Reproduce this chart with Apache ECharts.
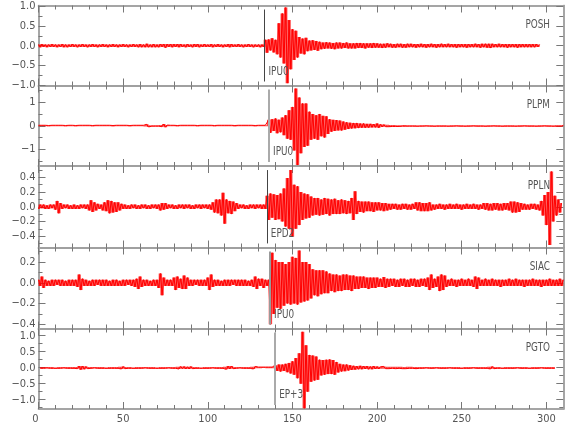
<!DOCTYPE html>
<html><head><meta charset="utf-8">
<script src="https://cdn.jsdelivr.net/npm/echarts@6/dist/echarts.min.js"></script>
<style>html,body{margin:0;padding:0;background:#fff}#c{width:580px;height:440px}</style>
</head><body><div id="c"></div>
<script>
// ---- data ----
const stations = ['POSH','PLPM','PPLN','SIAC','PGTO'];
const pickNames = ['IPU0','IPU0','EPD2','IPU0','EP+3'];
const pickTimes = [133.5,136.2,134.9,136.8,139.8];
const startTimes = [0,0,0,0,1];
const sampleInterval = 1;
const xTickMajor = [0,50,100,150,200,250,300];
const xTickMinor = [10,20,30,40,60,70,80,90,110,120,130,140,160,170,180,190,210,220,230,240,260,270,280,290];
const yMin = [-1.01,-1.71,-0.555,-0.44,-1.29];
const yMax = [1.02,1.71,0.555,0.34,1.225];
const yMajor = [[-1,-0.5,0,0.5,1],[-1,0,1],[-0.4,-0.2,0,0.2,0.4],[-0.4,-0.2,0,0.2],[-1,-0.5,0,0.5,1]];
const yMinor = [[-0.75,-0.25,0.25,0.75],[-1.5,-0.5,0.5,1.5],[-0.5,-0.3,-0.1,0.1,0.3,0.5],[-0.3,-0.1,0.1,0.3],[-1.25,-0.75,-0.25,0.25,0.75]];
const yDecimals = [1,0,1,1,1];

const posh = [
.03,-.04,.04,-.03,.03,-.04,.03,-.03,.04,-.03,.03,-.04,.03,-.03,.04,-.04,.03,-.04,.03,-.03,
.04,-.03,.03,-.04,.03,-.03,.04,-.03,.03,-.04,.03,-.03,.04,-.03,.03,-.04,.03,-.03,.04,-.03,
.03,-.04,.03,-.03,.04,-.03,.03,-.04,.03,-.03,.04,-.03,.03,-.04,.03,-.03,.04,-.03,.03,-.04,
.04,-.04,.03,-.04,.05,-.04,.03,-.04,.04,-.04,.03,-.04,.04,-.03,.04,-.05,.04,-.03,.04,-.04,
.04,-.03,.04,-.04,.04,-.03,.03,-.04,.04,-.03,.03,-.04,.04,-.03,.04,-.04,.03,-.03,.04,-.03,
.03,-.03,.04,-.04,.03,-.03,.04,-.03,.03,-.04,.03,-.03,.04,-.04,.04,-.03,.03,-.03,.04,-.03,
.03,-.04,.03,-.03,.04,-.03,.03,-.04,.03,-.03,.03,-.04,.03,-.03,.15,-.18,.16,-.12,.19,-.17,
.15,-.22,.57,-.3,.82,-.45,.97,-.95,.65,-.6,.42,-.36,.38,-.3,.22,-.2,.18,-.22,.2,-.14,
.13,-.12,.14,-.11,.12,-.13,.1,-.09,.08,-.08,.09,-.07,.08,-.08,.07,-.09,.08,-.07,.08,-.07,
.07,-.06,.08,-.07,.06,-.07,.06,-.07,.07,-.06,.07,-.06,.06,-.07,.06,-.05,.06,-.06,.07,-.05,
.06,-.05,.05,-.06,.05,-.05,.06,-.04,.05,-.05,.04,-.05,.05,-.04,.05,-.05,.04,-.05,.05,-.04,
.05,-.04,.04,-.05,.04,-.04,.05,-.04,.04,-.05,.04,-.04,.05,-.04,.04,-.05,.04,-.04,.05,-.04,
.04,-.04,.05,-.04,.04,-.04,.04,-.05,.04,-.04,.04,-.04,.04,-.05,.04,-.04,.04,-.04,.05,-.04,
.04,-.05,.05,-.04,.05,-.05,.05,-.06,.05,-.04,.04,-.04,.05,-.04,.04,-.04,.04,-.05,.04,-.04,
.04,-.04,.04,-.05,.04,-.04,.04,-.04,.04,-.04,.04,-.04,.04,-.04,.04,-.03,.03];

const plpm = [
.02,-.02,.02,-.01,.02,-.02,.01,-.02,.02,-.02,.02,-.01,.02,-.02,.02,-.02,.01,-.02,.02,-.02,
.02,-.02,.01,-.02,.02,-.02,.02,-.01,.02,-.02,.02,-.02,.01,-.02,.02,-.02,.02,-.01,.02,-.02,
.02,-.02,.02,-.02,.01,-.02,.02,-.02,.02,-.01,.02,-.02,.02,-.02,.01,-.02,.02,-.02,.02,-.02,
.02,-.02,.02,-.03,.06,-.05,.02,-.02,.02,-.02,.02,-.02,.03,-.04,.07,-.06,.03,-.02,.02,-.02,
.02,-.02,.01,-.02,.02,-.02,.02,-.01,.02,-.02,.02,-.02,.02,-.02,.01,-.02,.02,-.02,.02,-.01,
.02,-.02,.02,-.02,.01,-.02,.02,-.02,.02,-.02,.02,-.01,.02,-.02,.02,-.02,.01,-.02,.02,-.02,
.02,-.02,.02,-.01,.02,-.02,.02,-.02,.01,-.02,.02,-.02,.02,-.02,.02,-.02,.25,-.3,.28,-.22,
.31,-.32,.26,-.28,.35,-.4,.45,-.55,.66,-.6,.8,-1.05,1.58,-1.67,1.2,-1.17,.95,-.9,.95,-.85,
.6,-.6,.5,-.55,.45,-.6,.5,-.45,.42,-.5,.4,-.35,.28,-.25,.25,-.22,.24,-.2,.22,-.2,
.18,-.17,.15,-.14,.13,-.12,.12,-.11,.12,-.1,.1,-.09,.1,-.09,.08,-.08,.08,-.07,.07,-.07,
.1,-.09,.06,-.05,.05,-.04,.04,-.04,.03,-.03,.03,-.03,.02,-.03,.02,-.02,.03,-.02,.02,-.02,
.02,-.02,.02,-.02,.01,-.02,.02,-.02,.02,-.01,.02,-.02,.02,-.02,.01,-.02,.02,-.02,.02,-.02,
.02,-.02,.01,-.02,.02,-.02,.02,-.01,.02,-.02,.02,-.02,.01,-.02,.02,-.02,.02,-.01,.02,-.02,
.02,-.02,.02,-.02,.01,-.02,.02,-.02,.02,-.01,.02,-.02,.02,-.02,.01,-.02,.02,-.02,.02,-.02,
.02,-.02,.01,-.02,.02,-.02,.02,-.01,.02,-.02,.02,-.02,.02,-.02,.01,-.02,.02,-.02,.02,-.01,
.02,-.02,.02,-.02,.01,-.02,.02,-.02,.02,-.02,.02];

const ppln = [
-.03,.03,-.02,.03,-.03,.02,-.03,.03,-.02,.03,-.04,.08,-.09,.05,-.03,.03,-.02,.03,-.03,.02,
-.03,.03,-.03,.02,-.03,.03,-.02,.03,-.03,.03,-.05,.09,-.07,.06,-.05,.04,-.03,.03,-.05,.06,
-.06,.09,-.09,.08,-.08,.06,-.07,.06,-.05,.04,-.03,.03,-.03,.02,-.03,.03,-.02,.03,-.03,.02,
-.03,.03,-.02,.03,-.03,.02,-.03,.03,-.02,.03,-.03,.03,-.05,.05,-.04,.05,-.03,.03,-.02,.03,
-.03,.02,-.03,.03,-.02,.03,-.03,.03,-.02,.03,-.03,.02,-.03,.03,-.02,.03,-.03,.03,-.02,.03,
-.03,.03,-.04,.06,-.08,.1,-.09,.1,-.12,.19,-.23,.1,-.09,.08,-.1,.07,-.06,.05,-.03,.03,
-.02,.03,-.03,.02,-.03,.03,-.02,.03,-.03,.03,-.02,.03,-.03,.03,-.03,.15,-.18,.18,-.15,.17,
-.18,.16,-.17,.18,-.2,.25,-.27,.39,-.3,.5,-.41,.3,-.3,.28,-.25,.2,-.18,.18,-.16,.17,
-.15,.14,-.12,.12,-.11,.12,-.12,.1,-.11,.12,-.1,.11,-.12,.1,-.1,.11,-.1,.09,-.1,.1,
-.09,.09,-.1,.08,-.09,.12,-.18,.21,-.1,.08,-.07,.07,-.08,.07,-.06,.07,-.06,.06,-.07,.06,
-.05,.06,-.05,.05,-.06,.05,-.05,.04,-.04,.04,-.03,.04,-.04,.03,-.04,.04,-.03,.04,-.04,.03,
-.04,.04,-.03,.06,-.05,.06,-.06,.05,-.06,.05,-.06,.06,-.05,.03,-.04,.03,-.03,.04,-.03,.03,
-.04,.03,-.03,.04,-.03,.03,-.03,.04,-.03,.03,-.04,.03,-.03,.04,-.03,.03,-.03,.04,-.03,.03,
-.04,.03,-.03,.05,-.04,.05,-.05,.04,-.05,.05,-.04,.05,-.05,.04,-.05,.05,-.04,.05,-.05,.07,
-.08,.07,-.08,.06,-.07,.05,-.04,.04,-.04,.03,-.04,.04,-.03,.04,-.04,.03,-.05,.08,-.12,.16,
-.25,.2,-.52,.48,-.2,.15,-.12,.1,-.08,.05];

const siac = [
.03,-.03,.06,-.05,.03,-.03,.02,-.03,.03,-.03,.03,-.02,.03,-.03,.03,-.03,.02,-.03,.03,-.03,
.03,-.03,.03,-.04,.08,-.07,.04,-.03,.03,-.03,.02,-.03,.03,-.03,.03,-.02,.03,-.03,.03,-.03,
.03,-.03,.02,-.03,.03,-.03,.03,-.03,.02,-.03,.03,-.03,.03,-.02,.03,-.03,.03,-.04,.04,-.06,
.06,-.04,.03,-.03,.03,-.03,.02,-.03,.03,-.03,.03,-.05,.09,-.12,.05,-.03,.03,-.03,.03,-.03,
.05,-.07,.06,-.05,.04,-.06,.07,-.06,.05,-.03,.03,-.03,.03,-.02,.03,-.03,.03,-.03,.03,-.03,
.05,-.07,.08,-.04,.03,-.03,.03,-.03,.02,-.03,.03,-.03,.03,-.03,.03,-.02,.03,-.03,.03,-.03,
.03,-.03,.03,-.03,.02,-.03,.03,-.04,.06,-.06,.04,-.03,.04,-.05,.03,-.03,.03,-.4,.29,-.3,
.22,-.24,.2,-.25,.2,-.22,.18,-.2,.2,-.21,.25,-.2,.24,-.21,.31,-.19,.2,-.18,.2,-.17,
.18,-.15,.13,-.12,.12,-.13,.12,-.11,.12,-.1,.11,-.1,.09,-.08,.08,-.09,.08,-.08,.07,-.08,
.08,-.07,.08,-.07,.07,-.08,.07,-.06,.06,-.06,.06,-.05,.06,-.05,.05,-.06,.05,-.05,.05,-.05,
.05,-.04,.04,-.04,.055,-.05,.04,-.04,.04,-.03,.04,-.04,.03,-.04,.04,-.03,.04,-.04,.03,-.04,
.04,-.03,.04,-.04,.03,-.04,.04,-.03,.04,-.04,.05,-.07,.08,-.05,.04,-.04,.06,-.08,.08,-.07,
.07,-.04,.03,-.03,.04,-.03,.03,-.04,.03,-.03,.04,-.03,.03,-.03,.04,-.03,.03,-.04,.06,-.06,
.05,-.03,.03,-.03,.04,-.03,.03,-.03,.04,-.03,.03,-.03,.03,-.04,.03,-.03,.03,-.03,.04,-.03,
.03,-.03,.04,-.03,.03,-.03,.03,-.04,.03,-.03,.03,-.03,.04,-.03,.03,-.03,.03,-.04,.03,-.03,
.03,-.03,.04,-.03,.03,-.03,.03,-.03,.04,-.03,.03];

const pgto = [
-.02,.02,-.02,.02,-.01,.02,-.02,.02,-.02,.01,-.02,.02,-.02,.02,-.01,.02,-.02,.02,-.02,.02,
-.02,.02,-.03,.05,-.06,.05,-.05,.04,-.03,.02,-.02,.02,-.01,.02,-.02,.02,-.02,.02,-.02,.01,
-.02,.02,-.02,.02,-.02,.02,-.02,.03,-.04,.04,-.03,.02,-.02,.02,-.02,.01,-.02,.02,-.02,.02,
-.02,.02,-.01,.02,-.02,.02,-.02,.02,-.02,.01,-.02,.02,-.02,.02,-.02,.02,-.01,.02,-.02,.02,
-.02,.03,-.04,.04,-.03,.04,-.04,.03,-.04,.04,-.03,.02,-.02,.02,-.02,.01,-.02,.02,-.02,.02,
-.02,.02,-.01,.02,-.02,.02,-.02,.02,-.02,.03,-.05,.05,-.04,.05,-.03,.02,-.02,.02,-.01,.02,
-.02,.02,-.02,.02,-.02,.03,-.04,.04,-.02,.02,-.02,.02,-.01,.02,-.02,.02,-.02,.02,-.02,.08,
-.1,.1,-.12,.1,-.1,.12,-.14,.15,-.18,.2,-.22,.3,-.33,.45,-.5,1.12,-1.27,.7,-.75,.4,
-.44,.38,-.4,.35,-.38,.25,-.24,.24,-.22,.25,-.2,.26,-.2,.24,-.22,.18,-.15,.12,-.12,.1,
-.11,.1,-.09,.08,-.07,.06,-.06,.05,-.05,.06,-.05,.05,-.04,.05,-.05,.04,-.05,.05,-.04,.04,
-.04,.03,-.03,.04,-.03,.03,-.03,.03,-.02,.03,-.03,.03,-.02,.03,-.03,.02,-.03,.03,-.02,.03,
-.02,.02,-.03,.02,-.02,.02,-.02,.02,-.01,.02,-.02,.02,-.02,.02,-.01,.02,-.02,.02,-.02,.02,
-.02,.02,-.01,.02,-.02,.02,-.02,.02,-.02,.01,-.02,.02,-.02,.02,-.02,.02,-.01,.02,-.02,.02,
-.02,.02,-.02,.02,-.02,.03,-.04,.04,-.03,.02,-.02,.02,-.02,.01,-.02,.02,-.02,.02,-.02,.02,
-.02,.02,-.01,.02,-.02,.02,-.02,.02,-.02,.01,-.02,.02,-.02,.02,-.02,.02,-.01,.02,-.02,.02,
-.02,.02,-.02,.02,-.02];

const traces = [posh, plpm, ppln, siac, pgto];

// ---- layout / style ----
const gridTop = [5.5, 85.5, 166, 247.5, 328.5];
const gridH = [80, 80.5, 81.5, 81, 80.5];
const pickColor = ['#444','#aaa','#444','#999','#aaa'];
const pickWidth = [1, 2, 1, 2, 2];
const FONT = "'DejaVu Sans Condensed','Liberation Sans Narrow','DejaVu Sans',sans-serif";
const TXT = '#555';
const BORDER = {show:true, onZero:false, lineStyle:{color:'#a0a0a0', width:1.5}};
const TICKC = '#777';

const grid = [], xAxis = [], yAxis = [], series = [];
for (let i = 0; i < 5; i++) {
  grid.push({left:38.5, right:16.7, top:gridTop[i], height:gridH[i], containLabel:false});
  const xa = (pos, ticks, len, lbl) => ({
    type:'value', gridIndex:i, position:pos, min:0, max:310,
    axisLine:BORDER, splitLine:{show:false},
    axisTick:{show:true, inside:true, length:len, customValues:ticks, lineStyle:{color:TICKC, width:1}},
    axisLabel:{show:lbl, customValues:xTickMajor, margin:5, fontFamily:FONT, fontSize:11, color:TXT, alignMinLabel:'right'}
  });
  xAxis.push(xa('bottom', xTickMajor, 7, i === 4));
  xAxis.push(xa('bottom', xTickMinor, 4, false));
  xAxis.push(xa('top', xTickMajor, 7, false));
  xAxis.push(xa('top', xTickMinor, 4, false));
  const d = yDecimals[i];
  const ya = (pos, ticks, len, lbl) => ({
    type:'value', gridIndex:i, position:pos, min:yMin[i], max:yMax[i],
    axisLine:BORDER, splitLine:{show:false},
    axisTick:{show:true, inside:true, length:len, customValues:ticks, lineStyle:{color:TICKC, width:1}},
    axisLabel:{show:lbl, customValues:yMajor[i], margin:3, fontFamily:FONT, fontSize:11, color:TXT,
      formatter: v => (v < 0 ? '\u2212' : '') + Math.abs(v).toFixed(d)}
  });
  yAxis.push(ya('left', yMajor[i], 7, true));
  yAxis.push(ya('left', yMinor[i], 4, false));
  yAxis.push(ya('right', yMajor[i], 7, false));
  yAxis.push(ya('right', yMinor[i], 4, false));

  const rng = yMax[i] - yMin[i];
  const vals = traces[i];
  const t0 = startTimes[i];
  // envelope fill between consecutive samples (area the dense trace covers)
  const segs = [];
  for (let k = 1; k < vals.length; k++) segs.push([t0 + (k-1)*sampleInterval, t0 + k*sampleInterval, vals[k-1], vals[k]]);
  series.push({
    type:'custom', xAxisIndex:4*i, yAxisIndex:4*i, silent:true, animation:false, clip:true, z:2,
    encode:{x:[0,1], y:[2,3]},
    data: segs,
    renderItem: (params, api) => {
      const a = api.value(2), b = api.value(3);
      const p1 = api.coord([api.value(0), Math.max(a,b)]);
      const p2 = api.coord([api.value(1), Math.min(a,b)]);
      return {type:'rect', shape:{x:p1[0], y:p1[1], width:p2[0]-p1[0], height:Math.max(p2[1]-p1[1], 1)},
        style:{fill:'rgba(255,0,0,0.75)'}};
    }
  });
  series.push({
    type:'line', xAxisIndex:4*i, yAxisIndex:4*i, silent:true, showSymbol:false, symbol:'none',
    sampling:null, animation:false, clip:true, z:3,
    lineStyle:{color:'#ff0000', width:1},
    data: vals.map((v, k) => [t0 + k*sampleInterval, v]),
    markLine:{silent:true, symbol:'none', animation:false, label:{show:false},
      lineStyle:{color:pickColor[i], width:pickWidth[i], type:'solid'},
      data:[[{coord:[pickTimes[i], yMin[i] + 0.05*rng]}, {coord:[pickTimes[i], yMax[i] - 0.05*rng]}]]}
  });
}

const chart = echarts.init(document.getElementById('c'), null, {renderer:'canvas'});
chart.setOption({animation:false, backgroundColor:'#fff', grid, xAxis, yAxis, series});

// station names and pick labels (narrow text), placed through the axes' scales
const graphic = [];
for (let i = 0; i < 5; i++) {
  const rng = yMax[i] - yMin[i];
  const pTop = chart.convertToPixel({xAxisIndex:4*i, yAxisIndex:4*i}, [310, yMax[i] - 0.245*rng]);
  graphic.push({type:'text', x:550, y:pTop[1], scaleX:0.82, z:10, silent:true,
    style:{text:stations[i], font:"12px " + FONT, fill:TXT, align:'right', verticalAlign:'middle'}});
  const p = chart.convertToPixel({xAxisIndex:4*i, yAxisIndex:4*i}, [pickTimes[i], yMin[i] + 0.17*rng]);
  graphic.push({type:'text', x:p[0] + 4, y:p[1], scaleX:0.82, z:10, silent:true,
    style:{text:pickNames[i], font:"12px " + FONT, fill:TXT, align:'left', verticalAlign:'middle'}});
}
chart.setOption({graphic});
</script></body></html>
